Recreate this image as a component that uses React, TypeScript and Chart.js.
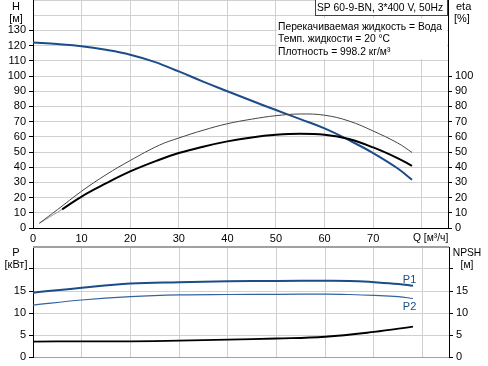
import React, { useEffect, useRef } from 'react';
import { Chart, registerables } from 'chart.js';
Chart.register(...registerables);

// ---- Data ----
const qHead = [0, 5, 10, 15, 20, 25, 30, 35, 40, 45, 50, 55, 60, 65, 70, 75, 78];
const headH = [122, 121, 119.6, 117.2, 114, 109.3, 103, 96.3, 90, 83.7, 77.6, 71.6, 65.5, 57.8, 49.3, 39.3, 31.7];

const qEta = [1.3, 6, 10, 15, 20, 26, 30, 35, 40, 45, 50, 55, 60, 65, 70, 75, 78];
const etaPump = [3.1, 12.3, 20.7, 29.3, 37.2, 44.9, 49.3, 53.5, 57, 59.6, 61.3, 62, 61.3, 58.5, 53, 46, 40.9];

const qEtaTot = [1.3, 5, 10, 15, 20, 26, 30, 35, 40, 45, 50, 55, 60, 65, 70, 75, 78];
const etaTotal = [3.1, 12, 24.2, 35, 44.4, 54.5, 59.2, 64.3, 68.6, 71.6, 73.9, 75, 74.2, 70.4, 63.8, 56, 49.7];

const qPow = [0, 10, 20, 30, 40, 50, 60, 65, 70, 75, 78];
const powerP1 = [14.6, 15.75, 16.7, 17.0, 17.2, 17.3, 17.35, 17.3, 17.0, 16.6, 16.2];
const powerP2 = [11.8, 12.95, 13.7, 14.1, 14.2, 14.25, 14.3, 14.2, 14.0, 13.7, 13.3];

const qNpsh = [0, 10, 20, 30, 40, 50, 60, 70, 78];
const npsh = [3.5, 3.55, 3.55, 3.7, 3.95, 4.2, 4.6, 5.7, 6.9];

const topLeftTicks = [0, 10, 20, 30, 40, 50, 60, 70, 80, 90, 100, 110, 120, 130];
const topRightTicks = [0, 10, 20, 30, 40, 50, 60, 70, 80, 90, 100];
const qTicks = [0, 10, 20, 30, 40, 50, 60, 70];
const botLeftTicks = [0, 5, 10, 15];
const botRightTicks = [0, 5, 10, 15];

const title = 'SP 60-9-BN, 3*400 V, 50Hz';
const infoLines = ['Перекачиваемая жидкость = Вода', 'Темп. жидкости = 20 °C', 'Плотность = 998.2 кг/м³'];

const FONT = '"Liberation Sans", Arial, sans-serif';
const GRID = '#d0d0d0';
const BLUE = '#1c4c89';

const pts = (xs: number[], ys: number[]) => xs.map((x, i) => ({ x, y: ys[i] }));

const fixY = (w: number) => (s: any) => {
  s.width = w;
  s.paddingTop = 0;
  s.paddingBottom = 0;
};
const fixX = (h: number) => (s: any) => {
  s.height = h;
  s.paddingLeft = 0;
  s.paddingRight = 0;
};

const tickFont = { family: FONT, size: 11 };

function xScale(showLabels: boolean, h: number, borderColor: string) {
  return {
    type: 'linear',
    min: 0,
    max: 85.4,
    afterBuildTicks: (s: any) => {
      s.ticks = [0, 10, 20, 30, 40, 50, 60, 70, 80].map((v) => ({ value: v }));
    },
    ticks: {
      display: showLabels,
      font: tickFont,
      color: '#000',
      padding: 4,
      maxRotation: 0,
      autoSkip: false,
      callback: (v: number) => (qTicks.includes(v) ? String(v) : ''),
    },
    grid: { color: GRID, lineWidth: 1, drawTicks: false },
    border: { display: true, color: borderColor, width: 1 },
    afterFit: fixX(h),
  };
}

function yScale(pos: string, max: number, step: number, labels: number[], tickMax: number, w: number, onArea: boolean) {
  return {
    type: 'linear',
    position: pos,
    min: 0,
    max,
    afterBuildTicks: (s: any) => {
      const t = [];
      for (let v = 0; v <= max + 1e-9; v += step) t.push({ value: v });
      s.ticks = t;
    },
    ticks: {
      font: tickFont,
      color: '#000',
      padding: 3,
      autoSkip: false,
      callback: (v: number) => (labels.includes(v) ? String(v) : ''),
    },
    grid: {
      display: true,
      drawOnChartArea: onArea,
      color: GRID,
      lineWidth: 1,
      tickLength: 4,
      tickColor: (ctx: any) => (ctx.tick && ctx.tick.value <= tickMax ? '#000' : 'rgba(0,0,0,0)'),
    },
    border: { display: true, color: '#000', width: 1 },
    afterFit: fixY(w),
  };
}

const TXT = `10.3px ${FONT}`;

const topLabels = {
  id: 'topLabels',
  afterDraw(chart: any) {
    const ctx = chart.ctx;
    ctx.save();
    ctx.font = `11px ${FONT}`;
    ctx.fillStyle = '#000';
    ctx.textBaseline = 'middle';
    ctx.textAlign = 'center';
    ctx.fillText('H', 16, 7);
    ctx.fillText('[м]', 16, 19);
    ctx.textAlign = 'left';
    ctx.fillText('eta', 456, 7);
    ctx.fillText('[%]', 454, 19);
    ctx.font = TXT;
    ctx.fillText('Q [м³/ч]', 413, 238);
    // info box
    ctx.fillStyle = '#fff';
    ctx.fillRect(277, 18, 170, 41);
    ctx.fillStyle = '#000';
    infoLines.forEach((t, i) => ctx.fillText(t, 278, 27 + i * 12.5));
    // title box
    ctx.fillStyle = '#fff';
    ctx.fillRect(315.5, -0.5, 132, 16);
    ctx.strokeStyle = '#444';
    ctx.lineWidth = 1;
    ctx.strokeRect(315.5, -0.5, 132, 16);
    ctx.fillStyle = '#000';
    ctx.fillText(title, 317, 8);
    ctx.restore();
  },
};

const botLabels = {
  id: 'botLabels',
  beforeDatasetsDraw(chart: any) {
    const { ctx, chartArea } = chart;
    ctx.save();
    ctx.strokeStyle = '#a0a0a0';
    ctx.lineWidth = 2;
    ctx.beginPath();
    ctx.moveTo(chartArea.left, chartArea.top);
    ctx.lineTo(chartArea.right, chartArea.top);
    ctx.stroke();
    ctx.restore();
  },
  afterDraw(chart: any) {
    const ctx = chart.ctx;
    const xs = chart.scales.x;
    const ys = chart.scales.y;
    ctx.save();
    ctx.font = `11px ${FONT}`;
    ctx.fillStyle = '#000';
    ctx.textBaseline = 'middle';
    ctx.textAlign = 'center';
    ctx.fillText('P', 16, 13);
    ctx.fillText('[кВт]', 16, 25);
    ctx.font = TXT;
    ctx.fillText('NPSH', 467, 13);
    ctx.fillText('[м]', 467, 25);
    ctx.font = `11px ${FONT}`;
    ctx.fillStyle = BLUE;
    ctx.fillText('P1', xs.getPixelForValue(77.3), ys.getPixelForValue(powerP1[powerP1.length - 1]) - 6);
    ctx.fillText('P2', xs.getPixelForValue(77.3), ys.getPixelForValue(powerP2[powerP2.length - 1]) + 8);
    ctx.restore();
  },
};

const lineDs = (label: string, data: any[], color: string, width: number, extra: any = {}) => ({
  label,
  data,
  borderColor: color,
  borderWidth: width,
  pointRadius: 0,
  fill: false,
  tension: 0.4,
  ...extra,
});

export default function App() {
  const topRef = useRef<HTMLCanvasElement>(null);
  const botRef = useRef<HTMLCanvasElement>(null);

  useEffect(() => {
    const common = {
      animation: false,
      responsive: true,
      maintainAspectRatio: false,
      plugins: { legend: { display: false }, tooltip: { enabled: false } },
      events: [],
    };
    const c1 = new Chart(topRef.current as HTMLCanvasElement, {
      type: 'line',
      data: {
        datasets: [
          lineDs('eta total', pts(qEtaTot, etaTotal), '#444', 1, { yAxisID: 'y' }),
          lineDs('eta', pts(qEta, etaPump), '#000', 2, {
            yAxisID: 'y',
            segment: {
              borderColor: (c: any) => (c.p0DataIndex === 0 ? '#999' : '#000'),
              borderWidth: (c: any) => (c.p0DataIndex === 0 ? 1 : 2),
            },
          }),
          lineDs('H', pts(qHead, headH), BLUE, 2, { yAxisID: 'y' }),
        ],
      },
      options: {
        ...common,
        layout: { padding: 0 },
        scales: {
          x: xScale(true, 18, '#000'),
          y: yScale('left', 150, 10, topLeftTicks, 130, 33, true),
          y2: yScale('right', 150, 10, topRightTicks, 100, 40, false),
        },
      } as any,
      plugins: [topLabels],
    } as any);

    const c2 = new Chart(botRef.current as HTMLCanvasElement, {
      type: 'line',
      data: {
        datasets: [
          lineDs('P2', pts(qPow, powerP2), '#3562a0', 1.2, { yAxisID: 'y' }),
          lineDs('P1', pts(qPow, powerP1), BLUE, 2, { yAxisID: 'y' }),
          lineDs('NPSH', pts(qNpsh, npsh), '#000', 1.8, { yAxisID: 'y' }),
        ],
      },
      options: {
        ...common,
        layout: { padding: { top: 7 } },
        scales: {
          x: xScale(false, 9, '#a0a0a0'),
          y: yScale('left', 25, 5, botLeftTicks, 20, 33, true),
          y2: yScale('right', 25, 5, botRightTicks, 20, 39, false),
        },
      } as any,
      plugins: [botLabels],
    } as any);

    return () => {
      c1.destroy();
      c2.destroy();
    };
  }, []);

  return (
    <div style={{ position: 'absolute', left: 0, top: 0, width: 488, height: 366, background: '#fff' }}>
      <div style={{ position: 'absolute', left: 0, top: 0, width: 488, height: 246 }}>
        <canvas ref={topRef} />
      </div>
      <div style={{ position: 'absolute', left: 0, top: 240, width: 488, height: 126 }}>
        <canvas ref={botRef} />
      </div>
    </div>
  );
}
